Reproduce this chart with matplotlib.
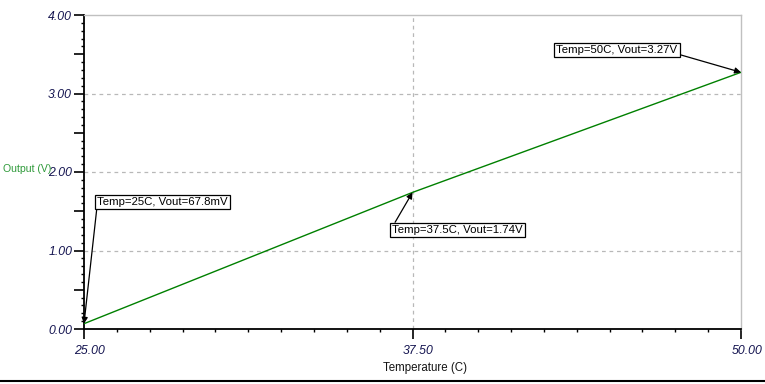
import matplotlib
matplotlib.use("Agg")
import matplotlib.pyplot as plt
from matplotlib.ticker import MultipleLocator, FixedLocator, FuncFormatter
from matplotlib.lines import Line2D
import matplotlib.transforms as mtransforms

# data
temps = [25.0, 37.5, 50.0]
vout = [0.0678, 1.74, 3.27]
labels = ["Temp=25C, Vout=67.8mV", "Temp=37.5C, Vout=1.74V", "Temp=50C, Vout=3.27V"]
xticks = [25.0, 37.5, 50.0]
yticks = [0.0, 1.0, 2.0, 3.0, 4.0]

plt.rcParams['font.family'] = ['Liberation Sans', 'DejaVu Sans']
plt.rcParams['font.style'] = 'italic'

fig = plt.figure(figsize=(7.65, 3.84), dpi=100)
ax = fig.add_axes([84/765, 1-329/384, 657/765, 314/384])

ax.plot(temps, vout, color='#008000', lw=1.0, zorder=3)

ax.set_xlim(25, 50)
ax.set_ylim(0, 4)

# grid
grid_kw = dict(color='#b8b8b8', lw=0.9, linestyle=(0, (3, 3)), zorder=1)
for v in yticks[1:-1]:
    ax.axhline(v, **grid_kw)
for v in xticks[1:-1]:
    ax.axvline(v, **grid_kw)

# spines
for s in ['top', 'right']:
    ax.spines[s].set_color('#c0c0c0')
    ax.spines[s].set_linewidth(1.0)
for s in ['left', 'bottom']:
    ax.spines[s].set_color('black')
    ax.spines[s].set_linewidth(1.3)

tick_color = '#141450'
ax.xaxis.set_major_locator(FixedLocator(xticks))
ax.xaxis.set_minor_locator(MultipleLocator(1.25))
ax.xaxis.set_major_formatter(FuncFormatter(lambda v, p: f"{v:.2f}"))
ax.yaxis.set_major_locator(MultipleLocator(0.5))
ax.yaxis.set_minor_locator(MultipleLocator(0.1))
ax.yaxis.set_major_formatter(FuncFormatter(lambda v, p: f"{v:.2f}" if abs(v - round(v)) < 1e-6 else ""))

ax.tick_params(axis='both', which='major', length=7.5, width=1.2, color='black',
               labelsize=8.8, labelcolor=tick_color)
ax.tick_params(axis='both', which='minor', length=2.5, width=1.0, color='black')
ax.tick_params(axis='x', which='major', pad=4)
ax.tick_params(axis='y', which='major', pad=1)
ax.tick_params(top=False, right=False, which='both')

offset = mtransforms.ScaledTranslation(6/100, 0, fig.dpi_scale_trans)
for lab in ax.get_xticklabels():
    lab.set_transform(lab.get_transform() + offset)

# half ticks medium length
for t in ax.yaxis.get_major_ticks():
    v = t.get_loc()
    if abs(v - round(v)) > 1e-6:
        t.tick1line.set_markersize(4.0)

ax.set_xlabel("Temperature (C)", fontsize=8.3, color='#141414', fontstyle='normal')
ax.xaxis.set_label_coords((425-84)/657, (329-368)/314)
ax.xaxis.label.set_va('center')
ax.set_ylabel("Output (V)", fontsize=7.6, color='#2f9a3a', rotation=0, ha='right',
              va='center', fontstyle='normal')
ax.yaxis.set_label_coords((51-84)/657, (329-169)/314)

# annotations
text_pos = [((97+228)/2, 202), ((388+527)/2, 230), ((557+677)/2, 50)]
relpos = [(0, 0.2), (0.01, 1), (1, 0.1)]
for (px, py), rp, x, y, lab in zip(text_pos, relpos, temps, vout, labels):
    xd = 25 + (px-84)/657*25
    yd = (329-py)/314*4
    ax.annotate(lab, xy=(x, y), xytext=(xd, yd), ha='center', va='center',
                fontsize=8.2, color='black', zorder=5, fontstyle='normal',
                bbox=dict(boxstyle='square,pad=0.2', fc='white', ec='black', lw=0.9),
                arrowprops=dict(arrowstyle='-|>', color='black', lw=0.9,
                                mutation_scale=9, shrinkA=0, shrinkB=0, relpos=rp),
                annotation_clip=False)

fig.add_artist(Line2D([0, 1], [1-381/384, 1-381/384], color='black', lw=1.5,
                      transform=fig.transFigure))

fig.savefig("out.png", dpi=100)
